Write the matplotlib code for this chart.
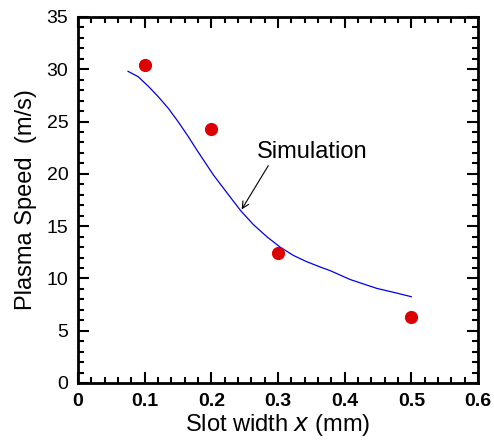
import matplotlib
matplotlib.use('Agg')
import matplotlib.pyplot as plt
from matplotlib.ticker import MultipleLocator

plt.rcParams['font.family'] = ['Liberation Sans', 'DejaVu Sans']

# measured plasma speed
slot_width = [0.1, 0.2, 0.3, 0.5]
speed = [30.4, 24.3, 12.4, 6.3]

# simulation curve
sim_x = [0.075, 0.090, 0.105, 0.120, 0.135, 0.150, 0.165, 0.178, 0.203, 0.228, 0.245,
         0.263, 0.283, 0.303, 0.323, 0.343, 0.363, 0.378, 0.408, 0.448, 0.478, 0.500]
sim_y = [29.8, 29.3, 28.4, 27.4, 26.3, 25.0, 23.6, 22.3, 19.9, 17.8, 16.4,
         15.15, 14.0, 13.0, 12.2, 11.6, 11.1, 10.75, 9.9, 9.05, 8.6, 8.25]

x_ticks = [0, 0.1, 0.2, 0.3, 0.4, 0.5, 0.6]
x_labels = ['0', '0.1', '0.2', '0.3', '0.4', '0.5', '0.6']

fig = plt.figure(figsize=(4.94, 4.47), dpi=100)
ax = fig.add_axes([0.158, 0.1432, 0.8096, 0.8188])

ax.plot(sim_x, sim_y, color='#0000ee', linewidth=0.9)
ax.plot(slot_width, speed, 'o', color='#dd0000', markersize=9.5, markeredgewidth=0)

ax.annotate('Simulation', xy=(0.2455, 16.6), xytext=(0.268, 22.1),
            fontsize=17, va='center', ha='left',
            arrowprops=dict(arrowstyle='->', color='black', lw=0.8,
                            shrinkA=0, shrinkB=0, mutation_scale=12,
                            relpos=(0.12, 0.0)))

ax.set_xlim(0, 0.6)
ax.set_ylim(0, 35)
ax.set_xticks(x_ticks)
ax.set_xticklabels(x_labels, fontweight='bold')
ax.xaxis.set_minor_locator(MultipleLocator(0.02))
ax.yaxis.set_major_locator(MultipleLocator(5))
ax.yaxis.set_minor_locator(MultipleLocator(1))

ax.tick_params(which='both', direction='in', top=True, right=True, width=1.5)
ax.tick_params(which='major', length=8, labelsize=14, pad=7)
ax.tick_params(which='minor', length=4)
for sp in ax.spines.values():
    sp.set_linewidth(2)

ax.set_xlabel('Slot width $\\it{x}$ (mm)', fontsize=17, labelpad=2)
ax.set_ylabel('Plasma Speed  (m/s)', fontsize=17, labelpad=7)

fig.savefig('out.png', dpi=100)
